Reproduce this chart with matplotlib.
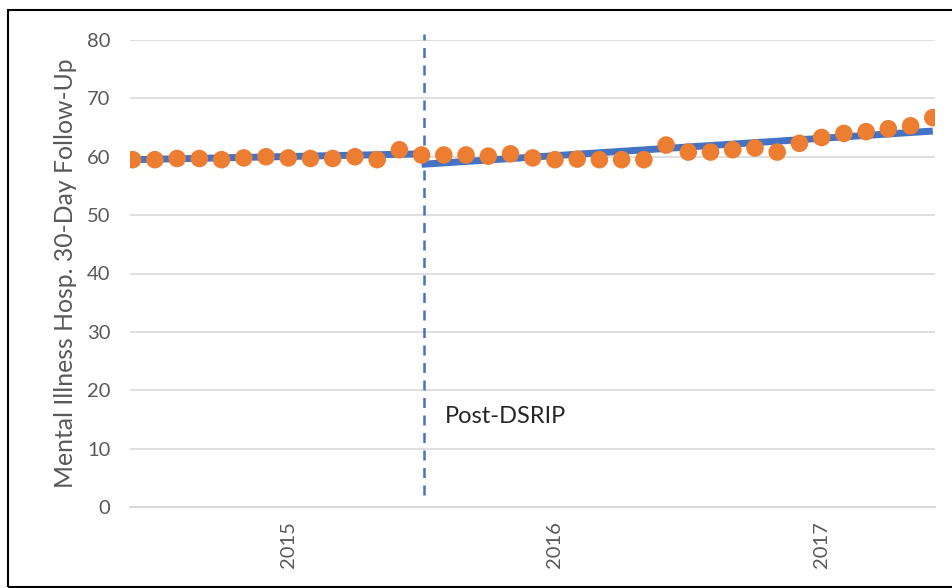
import matplotlib
matplotlib.use("Agg")
import matplotlib.pyplot as plt
from matplotlib.patches import Rectangle

plt.rcParams['font.family'] = ['Lato', 'DejaVu Sans']

# Monthly observed rates (index 0..36)
observed = [59.5, 59.5, 59.7, 59.7, 59.5, 59.8, 60.0, 59.8, 59.7, 59.7, 60.0, 59.5,
            61.2, 60.3, 60.3, 60.3, 60.1, 60.5, 59.8, 59.5, 59.6, 59.5, 59.5, 59.5,
            62.0, 60.8, 60.8, 61.2, 61.5, 60.8, 62.3, 63.3, 64.0, 64.3, 64.8, 65.3, 66.7]
months = list(range(len(observed)))

# Fitted trend segments (start/end index and values)
pre_x = [0, 13]
pre_y = [59.5, 60.5]
post_x = [13, 36]
post_y = [58.7, 64.4]

intervention = 13.1
intervention_span = [2.0, 81.0]
year_labels = ['2015', '2016', '2017']
year_pos = [7, 19, 31]
y_ticks = [0, 10, 20, 30, 40, 50, 60, 70, 80]

fig = plt.figure(figsize=(9.52, 5.88), dpi=100)
ax = fig.add_axes([130/952, 1-507/588, 805/952, 467/588])

grey = '#595959'
ax.set_ylim(0, 80)
ax.set_xlim(-0.12, 36.1)
ax.set_yticks(y_ticks)
ax.grid(axis='y', color='#d9d9d9', linewidth=1.2)
ax.set_axisbelow(True)
for s in ['top', 'right', 'left']:
    ax.spines[s].set_visible(False)
ax.spines['bottom'].set_color('#d9d9d9')
ax.spines['bottom'].set_linewidth(1.5)
ax.tick_params(axis='y', length=0, pad=14, labelsize=14.5, labelcolor=grey)
ax.set_xticks(year_pos)
ax.set_xticklabels(year_labels, rotation=90, fontsize=14.5, color=grey)
ax.tick_params(axis='x', length=0, pad=10)

ax.plot(pre_x, pre_y, color='#4472C4', linewidth=5, solid_capstyle='butt', zorder=2)
ax.plot(post_x, post_y, color='#4472C4', linewidth=5, solid_capstyle='butt', zorder=2)
ax.scatter(months, observed, s=160, color='#ED7D31', edgecolors='none', zorder=3)

ax.plot([intervention, intervention], intervention_span, color='#4472C4', linewidth=1.8,
        linestyle=(0, (4, 3)), zorder=1, clip_on=False)
ax.text(intervention + 0.95, 15.5, 'Post-DSRIP', fontsize=17, color='#262626', va='center', ha='left')

ax.set_ylabel('Mental Illness Hosp. 30-Day Follow-Up', fontsize=17.8, color=grey, labelpad=7)

fig.patches.append(Rectangle((8/952, 1/588), 1.0, 577/588, transform=fig.transFigure,
                             fill=False, edgecolor='black', linewidth=1.5))

fig.savefig('out.png', dpi=100)
